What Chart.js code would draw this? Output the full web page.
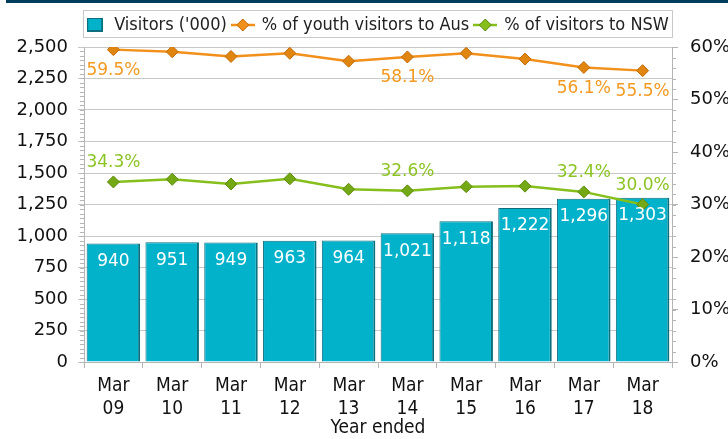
<!DOCTYPE html>
<html>
<head>
<meta charset="utf-8">
<title>Youth visitors</title>
<script src="https://cdn.jsdelivr.net/npm/chart.js@4.4.0/dist/chart.umd.min.js"></script>
<style>
  html, body { margin: 0; padding: 0; background: #fff; }
  #wrap { position: absolute; left: 0; top: 0; width: 728px; height: 439px; }
  #topBar { position: absolute; left: 6px; top: 0; width: 722px; height: 3px; background: #003d5c; }
</style>
</head>
<body>
<div id="wrap"><canvas id="chart" width="728" height="439"></canvas></div>
<div id="topBar"></div>
<script>
  // data
  const years = ['09', '10', '11', '12', '13', '14', '15', '16', '17', '18'];
  const visitors = [940, 951, 949, 963, 964, 1021, 1118, 1222, 1296, 1303];
  const youthAus = [59.5, 59.1, 58.2, 58.8, 57.3, 58.1, 58.8, 57.7, 56.1, 55.5];
  const visitorsNsw = [34.3, 34.8, 33.9, 34.9, 32.9, 32.6, 33.4, 33.5, 32.4, 30.0];
  const labelledPoints = [0, 5, 8, 9];
  const seriesNames = ["Visitors ('000)", '% of youth visitors to Aus', '% of visitors to NSW'];

  const TEAL = '#02b2cb', TEAL_DARK = '#0d6f7e';
  const ORANGE = '#f2901c', ORANGE_DARK = '#c26a06', ORANGE_TEXT = '#f39a22';
  const GREEN = '#86bf1c', GREEN_DARK = '#5c8c0c', GREEN_TEXT = '#8cc424';
  const NARROW = '"Liberation Sans Narrow", "DejaVu Sans Condensed", "Roboto Condensed", "Liberation Sans", sans-serif';

  // small legend icons
  function lineIcon(color, dark) {
    const c = document.createElement('canvas');
    c.width = 24; c.height = 14;
    const g = c.getContext('2d');
    g.strokeStyle = color; g.lineWidth = 2.5;
    g.beginPath(); g.moveTo(0, 7); g.lineTo(24, 7); g.stroke();
    g.fillStyle = color; g.strokeStyle = dark; g.lineWidth = 1;
    g.beginPath(); g.moveTo(12, 1); g.lineTo(18, 7); g.lineTo(12, 13); g.lineTo(6, 7); g.closePath();
    g.fill(); g.stroke();
    return c;
  }
  function boxIcon() {
    const c = document.createElement('canvas');
    c.width = 16; c.height = 14;
    const g = c.getContext('2d');
    g.fillStyle = TEAL_DARK; g.fillRect(0, 0, 16, 14);
    g.fillStyle = TEAL; g.fillRect(1, 1, 13, 11);
    return c;
  }
  const icons = [boxIcon(), lineIcon(ORANGE, ORANGE_DARK), lineIcon(GREEN, GREEN_DARK)];

  const extras = {
    id: 'extras',
    beforeInit(chart) {
      const lg = chart.legend;
      if (lg) {
        const fit = lg.fit;
        lg.fit = function () { fit.call(this); this.height = 37; };
      }
    },
    afterLayout(chart) {
      // centre the legend over its framed box, not over the canvas
      if (chart.legend) { chart.legend.left = 26; chart.legend.right = 728; }
    },
    beforeDraw(chart) {
      const ctx = chart.ctx;
      ctx.save();
      ctx.strokeStyle = '#c9c9c9';
      ctx.lineWidth = 1;
      ctx.strokeRect(83.5, 10.5, 589, 27);
      ctx.restore();
    },
    afterDraw(chart) {
      const ctx = chart.ctx;
      const yl = chart.scales.y, yr = chart.scales.y1;
      ctx.save();
      ctx.strokeStyle = '#b5b5b5';
      ctx.lineWidth = 1;
      ctx.beginPath();
      for (let v = 0; v <= 2500; v += 250 / 7) {
        const y = Math.round(yl.getPixelForValue(v)) + 0.5;
        ctx.moveTo(yl.right - 4, y); ctx.lineTo(yl.right, y);
      }
      for (let v = 0; v <= 60; v += 2) {
        const y = Math.round(yr.getPixelForValue(v)) + 0.5;
        ctx.moveTo(yr.left, y); ctx.lineTo(yr.left + 4, y);
      }
      ctx.stroke();
      ctx.restore();
    },
    afterDatasetsDraw(chart) {
      const ctx = chart.ctx;
      ctx.save();
      ctx.textAlign = 'center';
      ctx.textBaseline = 'middle';
      ctx.font = '17px "DejaVu Sans"';
      chart.getDatasetMeta(0).data.forEach((bar, i) => {
        ctx.fillStyle = '#ffffff';
        ctx.fillText(visitors[i].toLocaleString('en-US'), bar.x, bar.y + 18);
      });
      const orange = chart.getDatasetMeta(1).data;
      const green = chart.getDatasetMeta(2).data;
      labelledPoints.forEach(i => {
        ctx.fillStyle = ORANGE_TEXT;
        ctx.fillText(youthAus[i].toFixed(1) + '%', orange[i].x, orange[i].y + 21);
        ctx.fillStyle = GREEN_TEXT;
        ctx.fillText(visitorsNsw[i].toFixed(1) + '%', green[i].x, green[i].y - 19);
      });
      ctx.restore();
    }
  };

  new Chart(document.getElementById('chart'), {
    data: {
      labels: years.map(y => ['Mar', y]),
      datasets: [
        {
          type: 'bar',
          label: seriesNames[0],
          data: visitors,
          yAxisID: 'y',
          order: 2,
          backgroundColor: TEAL,
          borderColor: TEAL_DARK,
          borderWidth: { left: 1, top: 1, right: 2, bottom: 2 },
          barPercentage: 0.91,
          categoryPercentage: 1
        },
        {
          type: 'line',
          label: seriesNames[1],
          data: youthAus,
          yAxisID: 'y1',
          order: 1,
          borderColor: ORANGE,
          borderWidth: 2.5,
          pointStyle: 'rectRot',
          pointRadius: 6,
          pointBackgroundColor: '#e0850f',
          pointBorderColor: ORANGE_DARK,
          pointBorderWidth: 1
        },
        {
          type: 'line',
          label: seriesNames[2],
          data: visitorsNsw,
          yAxisID: 'y1',
          order: 0,
          borderColor: GREEN,
          borderWidth: 2.5,
          pointStyle: 'rectRot',
          pointRadius: 6,
          pointBackgroundColor: '#74a814',
          pointBorderColor: GREEN_DARK,
          pointBorderWidth: 1
        }
      ]
    },
    options: {
      responsive: false,
      animation: false,
      layout: { padding: { left: 0, top: 10, right: 0, bottom: 0 } },
      plugins: {
        tooltip: { enabled: false },
        legend: {
          position: 'top',
          labels: {
            usePointStyle: true,
            pointStyleWidth: 20,
            padding: 6,
            color: '#222',
            font: { family: NARROW, size: 18 },
            sort: (a, b) => a.datasetIndex - b.datasetIndex,
            generateLabels(chart) {
              const items = Chart.defaults.plugins.legend.labels.generateLabels(chart);
              items.forEach(it => { it.pointStyle = icons[it.datasetIndex]; it.lineWidth = 0; });
              return items;
            }
          }
        }
      },
      scales: {
        x: {
          grid: { offset: true, drawOnChartArea: false, tickLength: 6, color: '#b5b5b5' },
          border: { color: '#b5b5b5' },
          ticks: {
            color: '#111',
            padding: 7,
            maxRotation: 0,
            font: { family: NARROW, size: 19, lineHeight: 1.2 }
          },
          title: {
            display: true,
            text: 'Year ended',
            color: '#111',
            padding: { top: 0, bottom: 0 },
            font: { family: NARROW, size: 19 }
          },
          afterFit(s) { s.height = 77; }
        },
        y: {
          position: 'left',
          min: 0, max: 2500,
          grid: { color: '#c8c8c8', tickLength: 6 },
          border: { color: '#b5b5b5' },
          ticks: {
            stepSize: 250,
            padding: 10,
            color: '#111',
            font: { family: '"DejaVu Sans"', size: 18 },
            callback: v => v.toLocaleString('en-US')
          },
          afterFit(s) { s.width = 84; }
        },
        y1: {
          position: 'right',
          min: 0, max: 60,
          grid: { drawOnChartArea: false, tickLength: 6, color: '#b5b5b5' },
          border: { color: '#b5b5b5' },
          ticks: {
            stepSize: 10,
            padding: 12,
            color: '#111',
            font: { family: '"DejaVu Sans"', size: 18 },
            callback: v => v + '%'
          },
          afterFit(s) { s.width = 56; }
        }
      }
    },
    plugins: [extras]
  });
</script>
</body>
</html>
